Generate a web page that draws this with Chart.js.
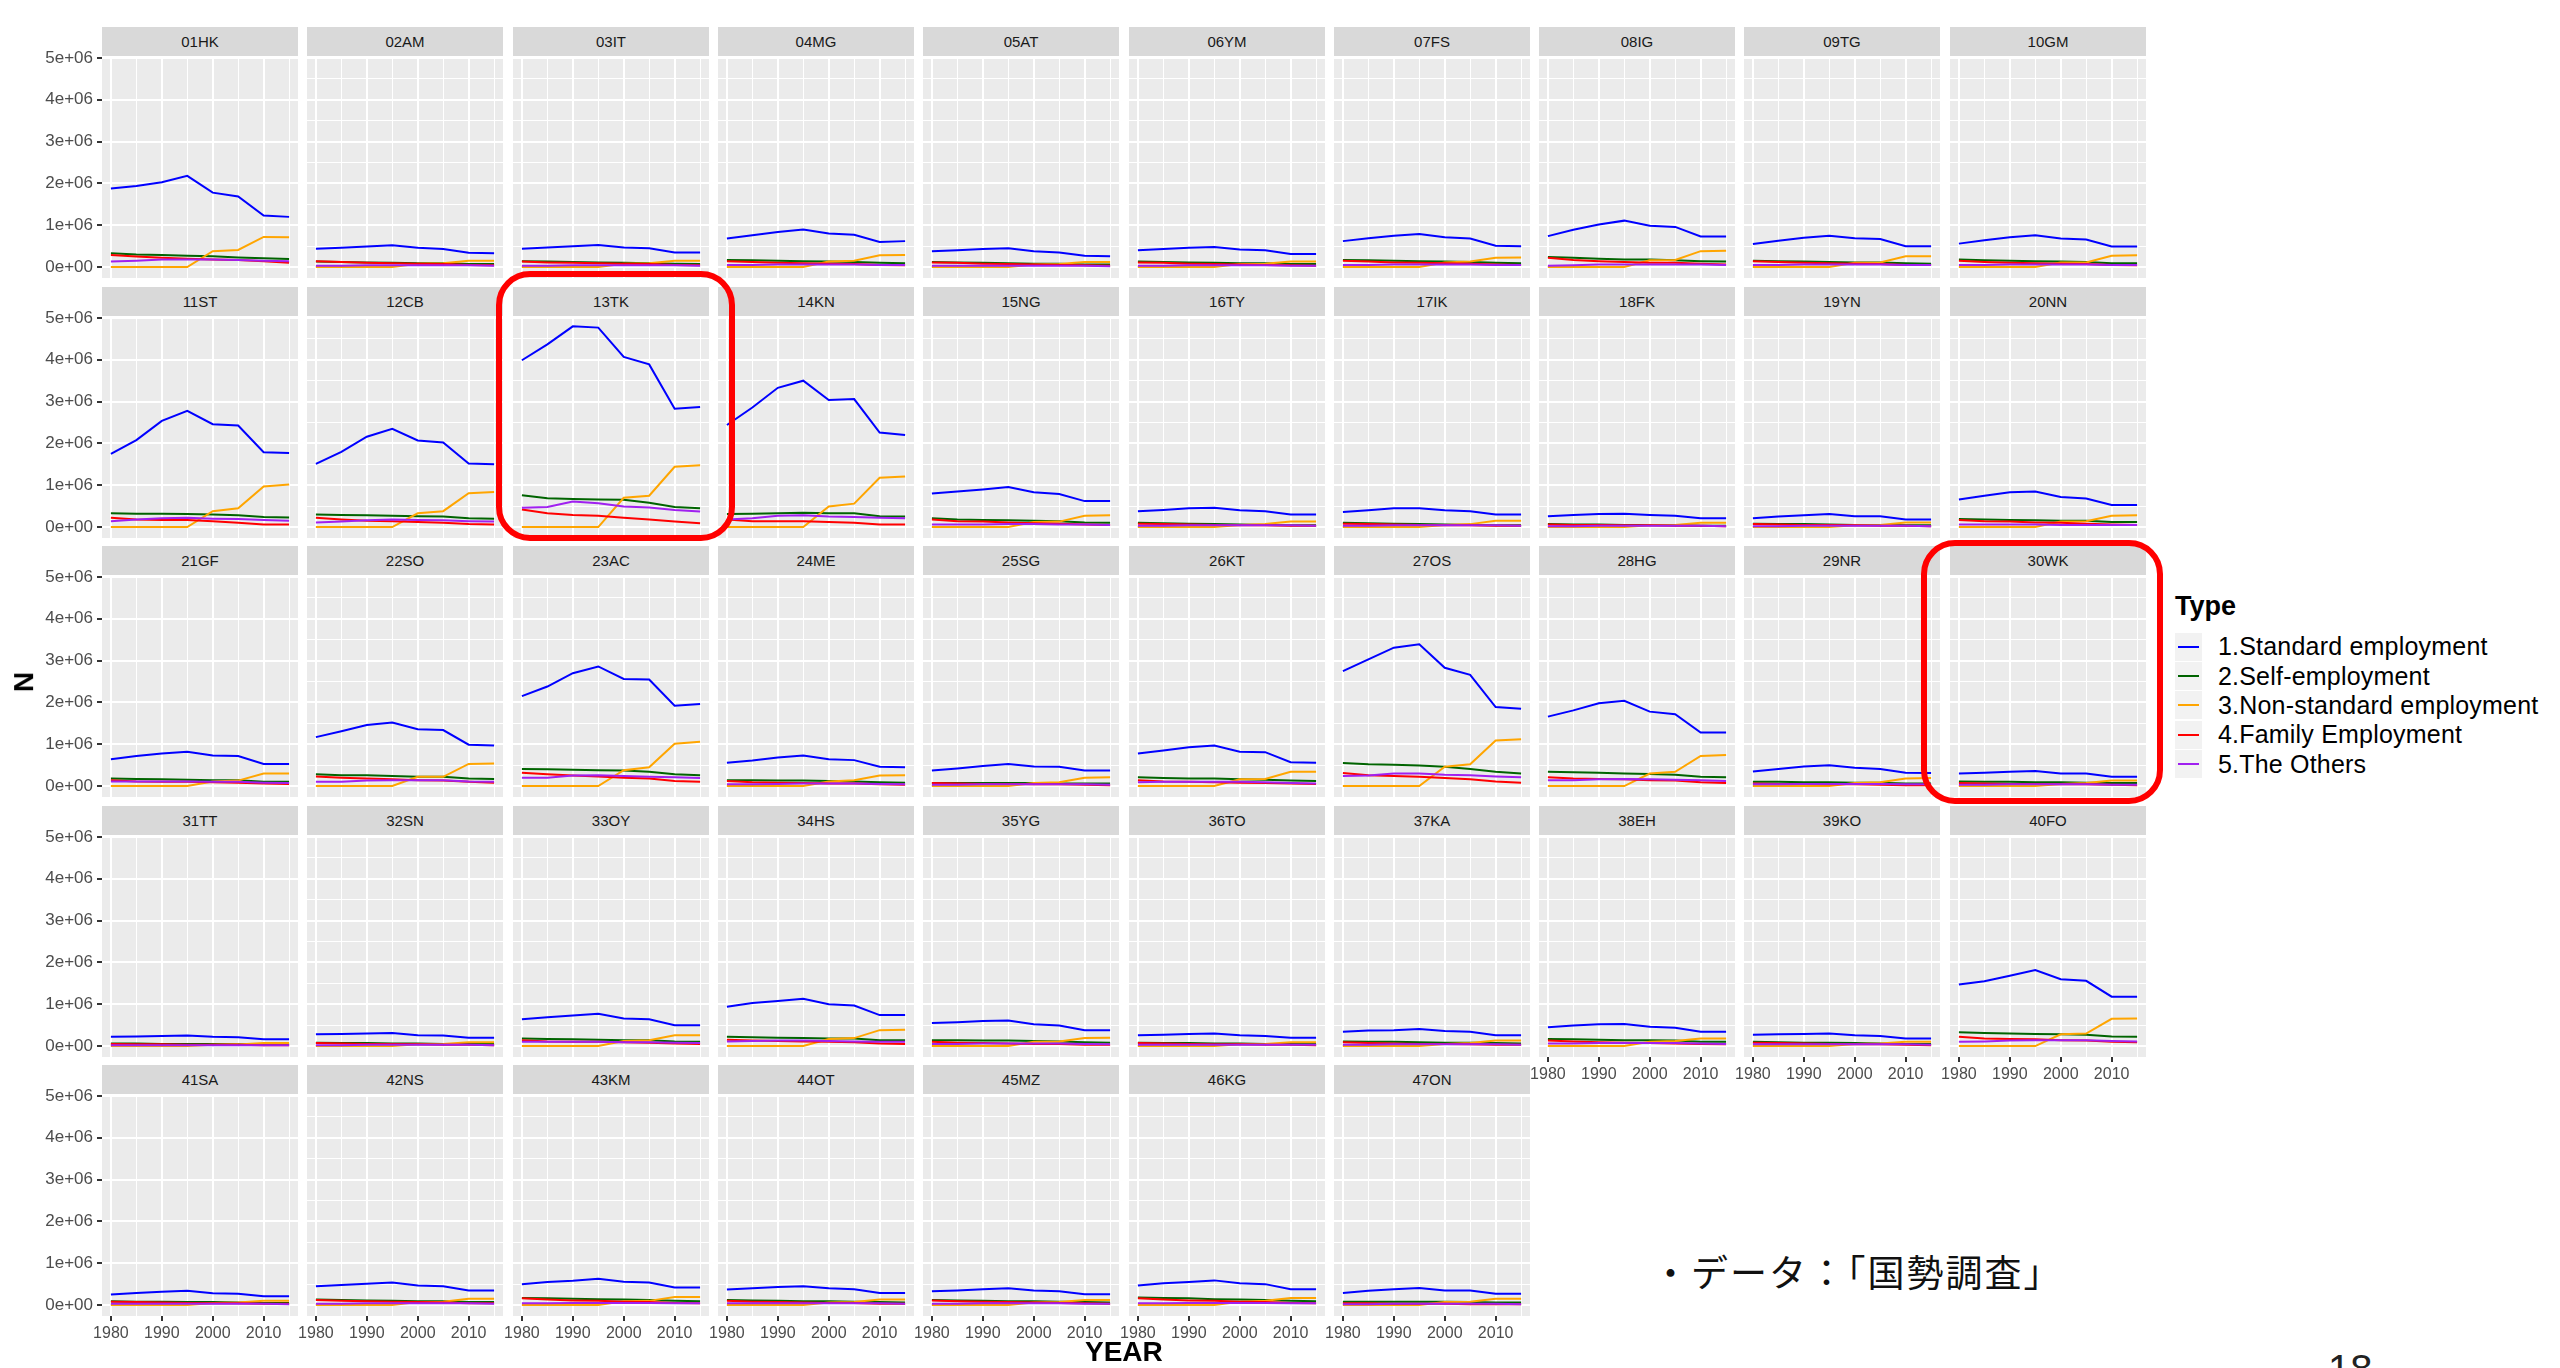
<!DOCTYPE html>
<html>
<head>
<meta charset="utf-8">
<script src="https://cdn.jsdelivr.net/npm/chart.js@4.4.1/dist/chart.umd.min.js"></script>
<style>
  html, body { margin: 0; padding: 0; background: #ffffff; }
  body { width: 2560px; height: 1368px; overflow: hidden; position: relative;
         font-family: "Liberation Sans", Arial, Helvetica, sans-serif; }
  canvas { position: absolute; }
  .strip { position: absolute; background: #d9d9d9; color: #1a1a1a; font-size: 15px;
           display: flex; align-items: center; justify-content: center; }
  .axis-title { position: absolute; font-weight: bold; color: #000; font-size: 28px; }
  .legend { position: absolute; left: 2175px; top: 588px; color: #000; }
  .legend .title { font-weight: bold; font-size: 27px; height: 44px; line-height: 36px; }
  .legend .item { height: 29.4px; display: flex; align-items: center; font-size: 25px; letter-spacing: 0.2px; }
  .legend .key { width: 27px; height: 28px; background: #f2f2f2; position: relative; margin-right: 16px; }
  .legend .key span { position: absolute; left: 3px; right: 3px; top: 13px; height: 2px; }
  .mark { position: absolute; border: 6px solid #ff0000; border-radius: 34px; box-sizing: border-box; }
  .note { position: absolute; font-family: "Noto Sans CJK JP", sans-serif; font-size: 37px;
          letter-spacing: 2px; color: #111; white-space: nowrap; }
  .page { position: absolute; font-family: "Liberation Sans", Arial, sans-serif; font-size: 40px; color: #222; }
</style>
</head>
<body>
<script>
// Census years on the horizontal axis
const years = [1980, 1985, 1990, 1995, 2000, 2005, 2010, 2015];

// Prefecture facet labels
const prefectures = [
  '01HK','02AM','03IT','04MG','05AT','06YM','07FS','08IG','09TG','10GM',
  '11ST','12CB','13TK','14KN','15NG','16TY','17IK','18FK','19YN','20NN',
  '21GF','22SO','23AC','24ME','25SG','26KT','27OS','28HG','29NR','30WK',
  '31TT','32SN','33OY','34HS','35YG','36TO','37KA','38EH','39KO','40FO',
  '41SA','42NS','43KM','44OT','45MZ','46KG','47ON'
];

// Employment types and their line colours
const typeNames = ['1.Standard employment', '2.Self-employment', '3.Non-standard employment',
                   '4.Family Employment', '5.The Others'];
const typeColors = ['#0000ff', '#006400', '#ffa500', '#ff0000', '#a020f0'];

// Workers by type, thousands of persons, one row per prefecture (1980 ... 2015)
const standardEmployment = [
  [1880,1940,2030,2180,1780,1690,1230,1200], [440,460,490,520,460,430,340,330],
  [440,470,500,530,470,450,350,350], [680,760,840,900,800,770,600,620],
  [380,400,430,450,380,350,270,260], [400,430,460,480,420,400,310,310],
  [620,690,750,790,710,680,510,500], [740,890,1020,1110,990,960,730,730],
  [550,630,700,750,690,670,500,500], [560,640,710,760,680,660,490,490],
  [1750,2080,2540,2780,2460,2430,1790,1770], [1510,1800,2160,2350,2070,2020,1520,1500],
  [3990,4370,4800,4770,4070,3890,2830,2870], [2440,2860,3330,3500,3040,3060,2260,2200],
  [800,850,900,960,830,790,620,620], [380,410,450,460,400,380,300,300],
  [360,400,450,450,400,380,300,300], [260,290,310,320,290,270,210,210],
  [210,250,280,310,260,260,180,180], [660,750,830,850,720,680,530,530],
  [640,720,780,820,730,720,530,530], [1170,1310,1460,1520,1360,1340,990,970],
  [2150,2380,2700,2860,2560,2550,1920,1960], [560,610,680,730,640,620,460,450],
  [370,420,480,530,470,460,370,370], [780,850,930,970,820,810,570,560],
  [2750,3030,3310,3390,2830,2660,1890,1850], [1660,1810,1980,2040,1780,1720,1280,1280],
  [350,410,470,500,440,410,320,310], [300,320,340,360,300,300,220,220],
  [220,230,240,250,220,210,160,160], [280,290,300,310,260,250,200,200],
  [640,690,730,770,660,640,500,500], [940,1030,1080,1130,1000,970,740,740],
  [550,570,600,610,520,490,380,380], [260,270,290,300,260,240,200,200],
  [340,370,380,410,360,340,260,260], [450,490,520,530,460,440,340,340],
  [270,280,290,300,260,240,180,180], [1470,1550,1680,1820,1600,1560,1180,1180],
  [250,290,320,340,280,270,210,210], [450,480,510,540,470,450,350,350],
  [500,550,580,630,560,540,420,420], [370,400,430,450,400,380,290,290],
  [330,350,380,400,350,330,260,260], [470,520,550,590,520,500,380,380],
  [290,340,380,410,350,350,270,270]
];

const selfEmployment = [
  [330,300,290,270,260,230,210,190], [130,120,110,100,90,90,70,70],
  [140,130,120,110,100,90,80,70], [170,160,150,140,130,120,100,90],
  [120,110,100,90,80,80,60,60], [130,120,110,100,90,90,70,70],
  [170,160,150,140,130,120,100,90], [240,220,200,180,180,160,140,130],
  [150,140,130,120,110,110,90,80], [180,160,150,140,130,120,90,90],
  [330,320,320,310,300,280,240,230], [300,290,280,270,260,250,210,200],
  [760,690,670,660,650,580,480,450], [310,320,330,340,330,330,260,250],
  [210,180,170,160,150,140,110,100], [100,90,80,70,60,50,40,40],
  [100,90,80,70,60,50,40,40], [70,60,60,50,50,40,30,30],
  [80,70,70,60,50,50,40,40], [190,180,170,160,150,150,120,120],
  [180,170,160,150,140,140,100,100], [280,260,260,240,220,220,180,170],
  [410,400,390,380,370,340,280,260], [140,140,130,130,120,110,90,80],
  [70,70,70,70,70,60,60,60], [210,190,180,180,160,150,130,120],
  [550,520,510,490,460,410,340,300], [340,330,320,300,290,270,220,210],
  [100,100,90,90,80,80,60,60], [110,100,100,90,90,80,70,70],
  [60,60,50,50,50,40,40,40], [80,70,70,60,60,50,50,50],
  [180,170,160,150,140,140,110,100], [220,210,200,190,180,180,140,140],
  [140,140,130,130,120,110,90,80], [80,70,70,60,60,50,50,50],
  [110,100,100,90,80,80,70,60], [170,160,150,140,140,130,100,100],
  [100,90,80,80,70,60,50,50], [330,310,300,290,280,270,230,220],
  [90,80,80,70,70,60,50,50], [130,120,110,100,90,90,70,70],
  [170,160,150,140,130,120,100,90], [120,110,100,90,90,80,70,60],
  [120,110,100,90,90,80,70,60], [180,170,160,140,130,120,100,90],
  [80,80,80,80,80,70,60,60]
];

const nonStandardEmployment = [
  [0,0,0,0,380,410,720,710], [0,0,0,0,80,90,150,150],
  [0,0,0,0,80,90,150,150], [0,0,0,0,130,150,280,290],
  [0,0,0,0,60,70,120,120], [0,0,0,0,70,80,130,130],
  [0,0,0,0,110,130,220,230], [0,0,0,0,160,170,380,390],
  [0,0,0,0,100,110,260,260], [0,0,0,0,110,110,270,280],
  [0,0,0,0,380,450,970,1020], [0,0,0,0,330,380,810,840],
  [0,0,0,0,700,750,1440,1480], [0,0,0,0,490,560,1180,1210],
  [0,0,0,0,120,130,270,280], [0,0,0,0,50,70,130,130],
  [0,0,0,0,50,70,150,150], [0,0,0,0,40,50,100,100],
  [0,0,0,0,40,50,110,110], [0,0,0,0,130,140,270,280],
  [0,0,0,0,110,130,300,300], [0,0,0,0,220,220,530,540],
  [0,0,0,0,380,450,1010,1060], [0,0,0,0,110,140,250,260],
  [0,0,0,0,70,90,200,210], [0,0,0,0,160,170,340,340],
  [0,0,0,0,460,520,1090,1120], [0,0,0,0,300,340,720,740],
  [0,0,0,0,70,90,180,190], [0,0,0,0,50,70,130,130],
  [0,0,0,0,30,40,70,70], [0,0,0,0,40,50,90,90],
  [0,0,0,0,120,140,260,260], [0,0,0,0,170,190,380,390],
  [0,0,0,0,100,110,190,200], [0,0,0,0,40,50,90,90],
  [0,0,0,0,50,70,130,130], [0,0,0,0,100,120,180,180],
  [0,0,0,0,50,60,100,100], [0,0,0,0,280,300,650,660],
  [0,0,0,0,50,60,100,100], [0,0,0,0,70,80,150,150],
  [0,0,0,0,90,100,190,190], [0,0,0,0,60,70,130,130],
  [0,0,0,0,60,70,120,120], [0,0,0,0,80,100,170,170],
  [0,0,0,0,70,80,150,150]
];

const familyEmployment = [
  [290,250,220,200,180,170,140,100], [140,120,100,90,80,70,50,40],
  [130,110,100,90,80,70,50,40], [140,120,100,90,80,70,50,40],
  [110,100,80,70,60,50,40,30], [110,100,80,70,60,50,40,30],
  [150,130,110,100,90,80,60,50], [220,170,140,120,100,100,80,60],
  [140,120,100,90,80,70,50,50], [150,120,100,90,80,70,50,40],
  [220,180,170,170,140,100,60,60], [220,180,150,140,120,100,70,60],
  [420,330,290,270,220,180,130,90], [180,140,140,140,120,100,60,60],
  [180,140,130,110,90,80,60,50], [80,70,60,50,40,40,30,30],
  [80,70,60,50,40,40,30,30], [60,50,50,40,40,30,30,20],
  [70,60,50,50,40,30,30,20], [170,140,130,110,100,80,60,50],
  [140,110,100,100,90,80,60,50], [230,200,180,160,140,130,100,80],
  [320,280,250,230,200,180,120,100], [120,90,80,70,60,60,40,30],
  [70,60,50,50,40,40,30,20], [140,110,100,90,80,70,60,50],
  [310,260,240,220,190,160,110,80], [210,180,170,160,140,130,90,70],
  [60,50,50,40,40,30,20,20], [70,60,50,50,40,40,30,20],
  [50,40,40,30,30,30,20,20], [70,60,50,50,40,30,30,20],
  [140,110,100,100,90,80,60,50], [150,130,120,110,100,90,60,50],
  [100,80,70,60,50,50,30,30], [70,60,50,40,40,30,30,20],
  [90,70,60,50,50,40,30,30], [130,110,90,80,70,60,50,40],
  [80,70,60,50,40,40,30,20], [220,180,170,160,140,130,100,90],
  [80,70,60,50,40,40,30,30], [120,100,90,80,70,60,40,40],
  [160,130,110,100,80,70,50,40], [100,80,70,60,50,50,30,30],
  [110,90,80,70,60,50,40,30], [160,130,110,100,80,70,50,40],
  [40,40,30,30,30,20,20,20]
];

const otherEmployment = [
  [130,150,180,180,180,170,150,140], [30,30,40,40,40,40,40,30],
  [30,30,40,40,40,40,40,30], [50,50,60,60,60,60,50,50],
  [30,30,30,30,30,30,30,20], [30,30,40,40,40,40,30,30],
  [50,50,60,60,60,60,50,50], [30,40,60,60,60,60,60,50],
  [50,50,60,60,60,60,50,50], [50,50,60,60,60,60,50,50],
  [140,180,210,220,200,190,170,150], [110,130,160,180,170,160,140,130],
  [460,480,610,570,490,470,410,370], [180,210,270,280,250,240,220,210],
  [60,60,60,70,70,60,60,50], [30,30,40,40,40,40,40,30],
  [30,30,40,40,40,40,40,30], [20,20,30,30,30,30,30,20],
  [20,20,30,30,30,30,30,20], [60,60,60,60,50,50,50,50],
  [110,110,110,110,100,100,80,70], [100,100,130,140,140,140,110,100],
  [200,200,250,260,240,220,210,190], [40,40,50,60,60,60,50,40],
  [30,30,40,40,40,40,40,30], [90,100,100,100,100,90,70,60],
  [240,250,300,300,270,260,230,210], [140,140,160,170,160,150,140,120],
  [40,40,50,50,50,50,40,40], [30,30,40,40,40,40,30,30],
  [20,20,20,20,20,20,20,20], [20,20,30,30,30,30,30,20],
  [100,100,100,100,90,90,80,70], [110,120,130,130,120,110,100,100],
  [50,50,60,60,60,60,50,40], [30,30,30,30,30,30,30,30],
  [30,30,40,40,40,40,40,30], [60,60,70,70,70,70,60,50],
  [40,40,40,40,40,40,40,30], [100,110,130,140,140,140,120,110],
  [30,30,30,30,30,30,30,20], [30,30,40,40,40,40,40,30],
  [40,40,50,50,50,50,40,40], [40,40,40,40,40,40,40,30],
  [30,30,40,40,40,40,30,30], [40,40,50,50,50,50,40,40],
  [20,20,30,30,30,30,30,20]
];

// Axis ticks: labelled majors plus unlabelled minor grid lines
const xTickValues = [1980, 1985, 1990, 1995, 2000, 2005, 2010, 2015];
const yTickValues = [0, 5e5, 1e6, 1.5e6, 2e6, 2.5e6, 3e6, 3.5e6, 4e6, 4.5e6, 5e6];

const seriesByType = [standardEmployment, selfEmployment, nonStandardEmployment,
                      familyEmployment, otherEmployment];

// Facet grid geometry
const NCOL = 10;
const PLOT_W = 196, PLOT_H = 221, STRIP_H = 29;
const LEFT0 = 102, PITCH_X = 205.3, TOP0 = 27, PITCH_Y = 259.6;
const X_AXIS_H = 40, SIDE_PAD = 24, TOP_PAD = 14;
const FONT = '"Liberation Sans", Arial, Helvetica, sans-serif';

const panelBackground = {
  id: 'panelBackground',
  beforeDraw(chart) {
    const { ctx, chartArea: a } = chart;
    ctx.save();
    ctx.fillStyle = '#ebebeb';
    ctx.fillRect(a.left, a.top, a.right - a.left, a.bottom - a.top);
    ctx.restore();
  }
};

function addDiv(cls, text, style) {
  const d = document.createElement('div');
  d.className = cls;
  if (text !== null) d.textContent = text;
  Object.assign(d.style, style);
  document.body.appendChild(d);
  return d;
}

prefectures.forEach((name, i) => {
  const r = Math.floor(i / NCOL), c = i % NCOL;
  const px = Math.round(LEFT0 + c * PITCH_X);
  const stripTop = Math.round(TOP0 + r * PITCH_Y);
  const plotTop = stripTop + STRIP_H + 1;
  const hasY = c === 0;
  const hasX = r === 4 || (r === 3 && c >= 7);
  const padTop = hasY ? TOP_PAD : 0;

  addDiv('strip', name, { left: px + 'px', top: stripTop + 'px',
                          width: PLOT_W + 'px', height: STRIP_H + 'px' });

  const canvas = document.createElement('canvas');
  const left = hasY ? 0 : px - SIDE_PAD;
  const width = hasY ? px + PLOT_W + SIDE_PAD : PLOT_W + 2 * SIDE_PAD;
  const height = PLOT_H + padTop + (hasX ? X_AXIS_H : 0);
  canvas.width = width; canvas.height = height;
  canvas.style.left = left + 'px'; canvas.style.top = (plotTop - padTop) + 'px';
  canvas.style.width = width + 'px'; canvas.style.height = height + 'px';
  document.body.appendChild(canvas);

  const datasets = seriesByType.map((series, k) => ({
    label: typeNames[k],
    data: years.map((yr, j) => ({ x: yr, y: series[i][j] * 1000 })),
    borderColor: typeColors[k],
    borderWidth: 2,
    pointRadius: 0,
    tension: 0,
    fill: false,
    order: seriesByType.length - k
  }));

  new Chart(canvas, {
    type: 'line',
    data: { datasets },
    options: {
      responsive: false,
      animation: false,
      devicePixelRatio: 1,
      layout: { padding: { left: hasY ? 0 : SIDE_PAD, right: SIDE_PAD, top: padTop, bottom: 0 } },
      plugins: { legend: { display: false }, tooltip: { enabled: false } },
      scales: {
        x: {
          type: 'linear', min: 1978.25, max: 2016.75,
          border: { display: false },
          grid: {
            color: '#ffffff',
            lineWidth: ctx => (ctx.tick && ctx.tick.value % 10 === 0) ? 2 : 1,
            drawTicks: hasX, tickLength: 5, tickWidth: 2,
            tickColor: ctx => (ctx.tick && ctx.tick.value % 10 === 0) ? '#333333' : 'rgba(0,0,0,0)'
          },
          ticks: {
            display: hasX, color: '#4d4d4d', padding: 3, maxRotation: 0, autoSkip: false,
            font: { family: FONT, size: 16 },
            callback: v => (v % 10 === 0 ? String(v) : '')
          },
          afterBuildTicks: s => { s.ticks = xTickValues.map(v => ({ value: v })); },
          afterFit: s => { s.height = hasX ? X_AXIS_H : 0; s.paddingLeft = 0; s.paddingRight = 0; }
        },
        y: {
          type: 'linear', min: -262000, max: 5024000,
          border: { display: false },
          grid: {
            color: '#ffffff',
            lineWidth: ctx => (ctx.tick && ctx.tick.value % 1e6 === 0) ? 2 : 1,
            drawTicks: hasY, tickLength: 5, tickWidth: 2,
            tickColor: ctx => (ctx.tick && ctx.tick.value % 1e6 === 0) ? '#333333' : 'rgba(0,0,0,0)'
          },
          ticks: {
            display: hasY, color: '#4d4d4d', padding: 4,
            font: { family: FONT, size: 17 },
            callback: v => (v % 1e6 === 0 ? (v === 0 ? '0e+00' : (v / 1e6) + 'e+06') : '')
          },
          afterBuildTicks: s => { s.ticks = yTickValues.map(v => ({ value: v })); },
          afterFit: s => { s.width = hasY ? px : 0; s.paddingTop = 0; s.paddingBottom = 0; }
        }
      }
    },
    plugins: [panelBackground]
  });
});

// Axis titles
addDiv('axis-title', 'N', { left: '14px', top: '666px', transform: 'rotate(-90deg)', transformOrigin: 'center' });
addDiv('axis-title', 'YEAR', { left: '1085px', top: '1336px' });

// Legend
const legend = addDiv('legend', null, {});
const lt = document.createElement('div'); lt.className = 'title'; lt.textContent = 'Type'; legend.appendChild(lt);
typeNames.forEach((t, k) => {
  const item = document.createElement('div'); item.className = 'item';
  const key = document.createElement('div'); key.className = 'key';
  const line = document.createElement('span'); line.style.background = typeColors[k];
  key.appendChild(line); item.appendChild(key);
  const label = document.createElement('span'); label.textContent = t; item.appendChild(label);
  legend.appendChild(item);
});

// Highlight frames around two facets
addDiv('mark', null, { left: '496px', top: '271px', width: '239px', height: '270px' });
addDiv('mark', null, { left: '1921px', top: '540px', width: '242px', height: '264px' });

// Source note and page number
addDiv('note', '・データ：「国勢調査」', { left: '1652px', top: '1244px' });
addDiv('page', '18', { left: '2328px', top: '1347px' });
</script>
</body>
</html>
